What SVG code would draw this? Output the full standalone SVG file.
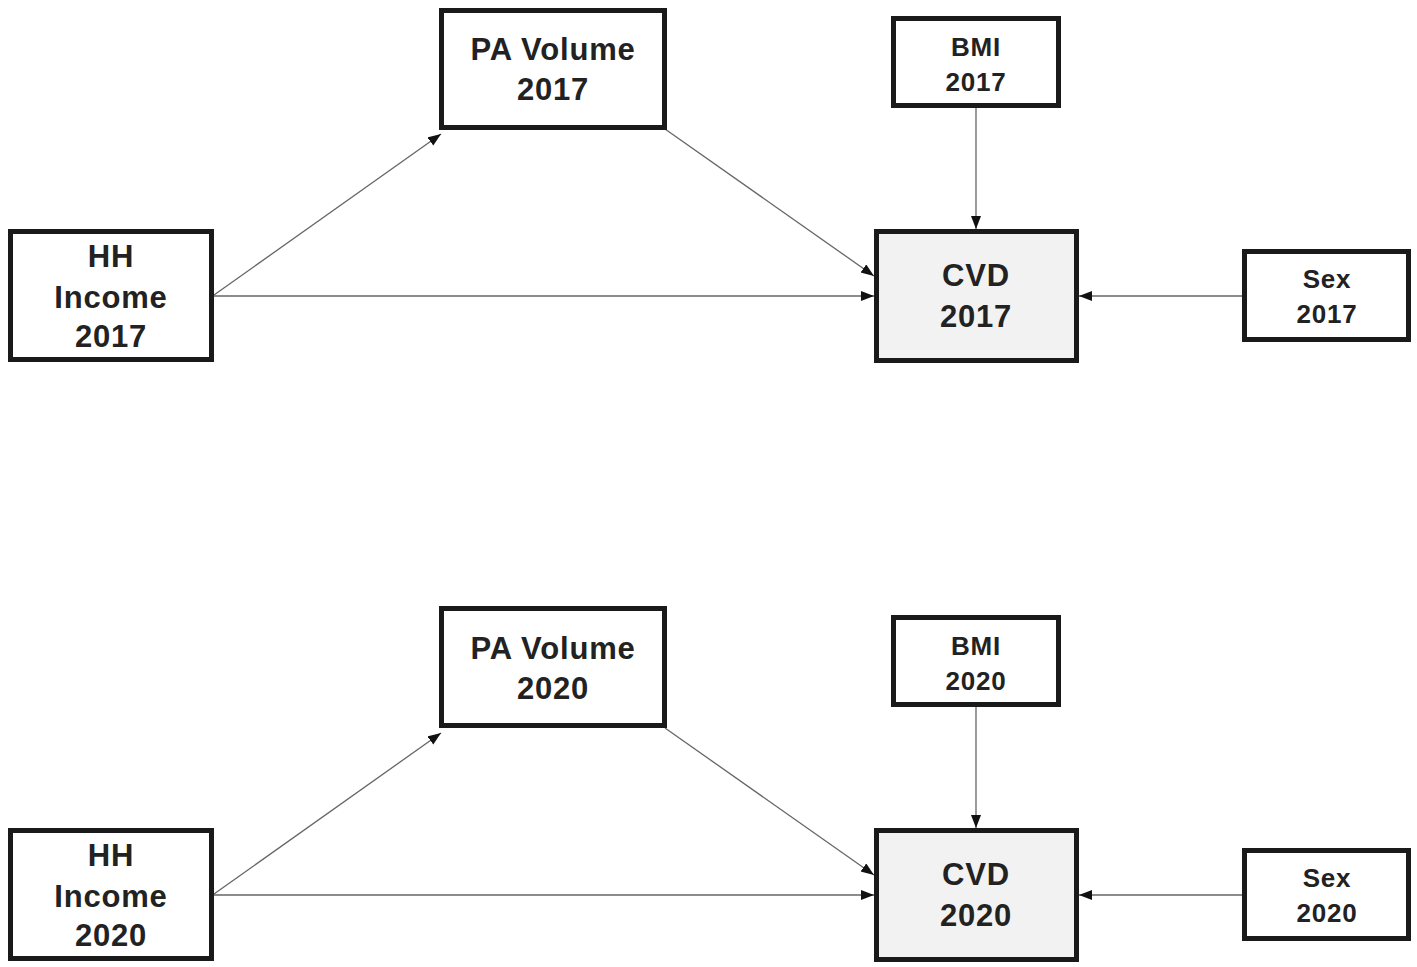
<svg xmlns="http://www.w3.org/2000/svg" width="1417" height="967" viewBox="0 0 1417 967">
<style>
.box{fill:#fff;stroke:#1a1a1a;stroke-width:5}
.out{fill:#f2f2f2}
.t{font-family:"Liberation Sans",Arial,sans-serif;font-weight:bold;fill:#222;text-anchor:middle;letter-spacing:0.8px}
.big{font-size:31px}
.sm{font-size:26px}
.c{stroke:#666;stroke-width:1.3;fill:none;marker-end:url(#ah)}
</style>
<defs>
<marker id="ah" markerUnits="userSpaceOnUse" markerWidth="15" markerHeight="11" refX="13" refY="5" orient="auto">
<path d="M0,0 L13,5 L0,10 z" fill="#111"/>
</marker>
</defs>
<rect width="1417" height="967" fill="#fff"/>
<g id="connectors">
<line class="c" x1="214" y1="295" x2="441" y2="134"/>
<line class="c" x1="665" y1="129" x2="874" y2="276"/>
<line class="c" x1="214" y1="296" x2="874" y2="296"/>
<line class="c" x1="976" y1="108" x2="976" y2="229"/>
<line class="c" x1="1242" y1="296" x2="1079" y2="296"/>
<line class="c" x1="214" y1="894" x2="441" y2="733"/>
<line class="c" x1="665" y1="728" x2="874" y2="875"/>
<line class="c" x1="214" y1="895" x2="874" y2="895"/>
<line class="c" x1="976" y1="707" x2="976" y2="828"/>
<line class="c" x1="1242" y1="895" x2="1079" y2="895"/>
</g>
<g id="hh2017"><rect class="box" x="10.5" y="231.5" width="201" height="128"/>
<text class="t big" x="111" y="267">HH</text><text class="t big" x="111" y="308">Income</text><text class="t big" x="111" y="347">2017</text></g>
<g id="pa2017"><rect class="box" x="441.5" y="10.5" width="223" height="117"/>
<text class="t big" x="553" y="60">PA Volume</text><text class="t big" x="553" y="100">2017</text></g>
<g id="bmi2017"><rect class="box" x="893.5" y="18.5" width="165" height="87"/>
<text class="t sm" x="976" y="56">BMI</text><text class="t sm" x="976" y="91">2017</text></g>
<g id="cvd2017"><rect class="box out" x="876.5" y="231.5" width="200" height="129"/>
<text class="t big" x="976" y="286">CVD</text><text class="t big" x="976" y="327">2017</text></g>
<g id="sex2017"><rect class="box" x="1244.5" y="251.5" width="164" height="88"/>
<text class="t sm" x="1327" y="288">Sex</text><text class="t sm" x="1327" y="323">2017</text></g>
<g id="hh2020"><rect class="box" x="10.5" y="830.5" width="201" height="128"/>
<text class="t big" x="111" y="866">HH</text><text class="t big" x="111" y="907">Income</text><text class="t big" x="111" y="946">2020</text></g>
<g id="pa2020"><rect class="box" x="441.5" y="608.5" width="223" height="117"/>
<text class="t big" x="553" y="659">PA Volume</text><text class="t big" x="553" y="699">2020</text></g>
<g id="bmi2020"><rect class="box" x="893.5" y="617.5" width="165" height="87"/>
<text class="t sm" x="976" y="655">BMI</text><text class="t sm" x="976" y="690">2020</text></g>
<g id="cvd2020"><rect class="box out" x="876.5" y="830.5" width="200" height="129"/>
<text class="t big" x="976" y="885">CVD</text><text class="t big" x="976" y="926">2020</text></g>
<g id="sex2020"><rect class="box" x="1244.5" y="850.5" width="164" height="88"/>
<text class="t sm" x="1327" y="887">Sex</text><text class="t sm" x="1327" y="922">2020</text></g>
</svg>
